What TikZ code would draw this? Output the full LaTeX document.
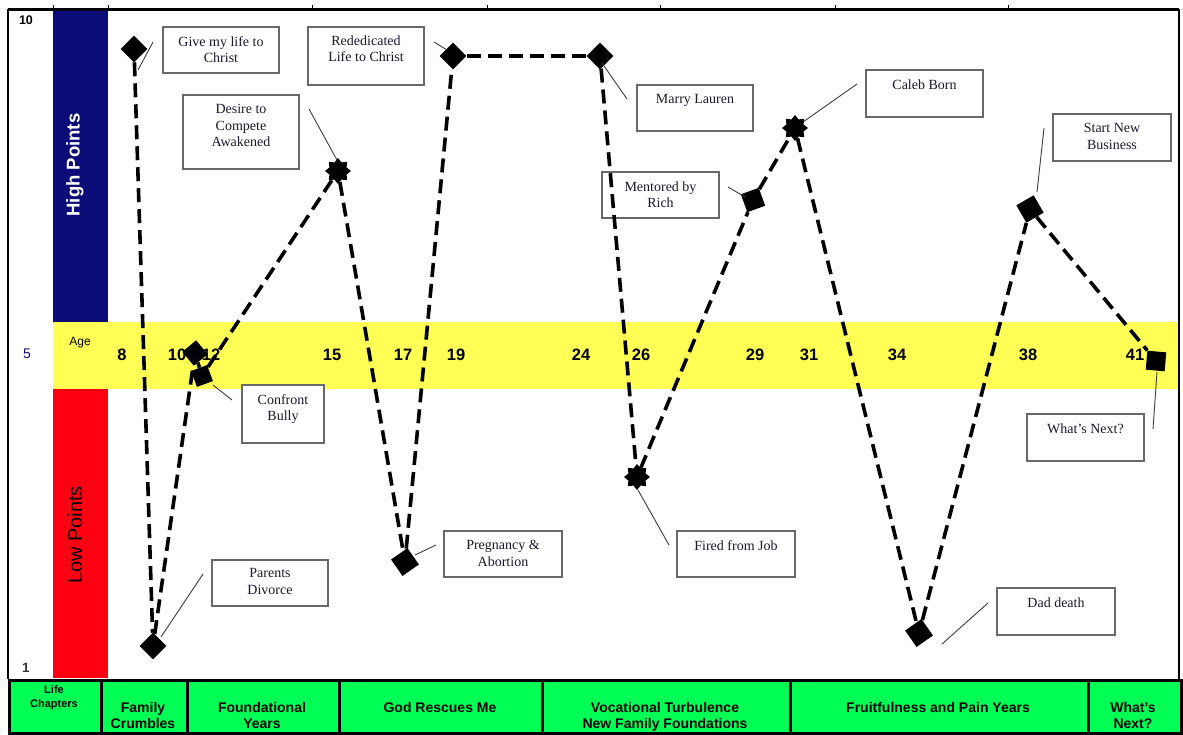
\documentclass[tikz,border=0pt]{standalone}
\usepackage{fontspec}
\setmainfont{Liberation Serif}
\setsansfont{Liberation Sans}
\usetikzlibrary{shapes.geometric}
\definecolor{navybar}{RGB}{12,12,120}
\definecolor{ageband}{RGB}{255,255,85}
\definecolor{lowbar}{RGB}{255,0,18}
\definecolor{chaptergreen}{RGB}{0,255,85}
\definecolor{calloutline}{RGB}{105,105,105}
\definecolor{callouttext}{RGB}{25,25,45}
\definecolor{leadergray}{RGB}{60,60,60}
\begin{document}
\begin{tikzpicture}[x=1pt,y=-1pt,
  evbox/.style={draw=calloutline, line width=1.3pt, fill=white, inner sep=0pt,
                minimum width=116pt, minimum height=46pt},
  evtext/.style={anchor=north, inner sep=0pt, align=center, text=callouttext,
                 font=\fontsize{14}{16.5}\selectfont},
  trend/.style={line width=3.6pt, dash pattern=on 14pt off 7pt},
  topmark/.style={line width=0.8pt},
  leaderline/.style={draw=leadergray, line width=0.9pt},
  dia/.style={diamond, fill=black, inner sep=0pt, minimum width=27pt, minimum height=27pt},
  sq/.style={rectangle, fill=black, inner sep=0pt, minimum size=#1},
  burst/.style={star, star points=8, star point ratio=1.4, fill=black,
                inner sep=0pt, minimum size=26pt},
  agenum/.style={font=\sffamily\bfseries\fontsize{16.5}{18}\selectfont},
  chapcell/.style={draw=black, line width=2.5pt, fill=chaptergreen, inner sep=0pt,
                   minimum height=53pt, anchor=north west},
  celltext/.style={anchor=north, inner sep=0pt, align=center,
                   font=\sffamily\bfseries\fontsize{14}{16}\selectfont},
]
% canvas
\fill[white] (0,0) rectangle (1183,734);

% side bars and the age band
\fill[navybar] (53,9) rectangle (108,322);
\fill[ageband] (53,322) rectangle (1179,389);
\fill[lowbar]  (53,389) rectangle (108,678);

% chart frame
\draw[line width=1.5pt] (8,9) -- (8,679);
\draw[line width=2pt] (1179,9) -- (1179,679);
\draw[line width=3pt] (8,9) -- (1179,9);
\foreach \x in {53,108,312,487,660,835,1008}
  \draw[topmark] (\x,5) -- (\x,8);

% scale labels
\node[font=\sffamily\bfseries\fontsize{12.5}{14}\selectfont] (ten) at (26,20) {10};
\node[font=\sffamily\fontsize{14}{16}\selectfont, text=navybar] (five) at (27,354) {5};
\node[font=\sffamily\bfseries\fontsize{13.5}{15}\selectfont, text=black!80] (one) at (26,668) {1};

\node[rotate=90, text=white, font=\sffamily\bfseries\fontsize{18.5}{20}\selectfont] (high) at (75,165) {High Points};
\node[rotate=90, font=\sffamily\fontsize{20}{22}\selectfont] (low) at (75,535) {Low Points};
\node[font=\sffamily\fontsize{12}{14}\selectfont] (agelbl) at (80,343) {Age};

% ages
\foreach \a/\x in {8/122,10/177,12/211,15/332,17/403,19/456,24/581,26/641,29/755,31/809,34/897,38/1028,41/1135}
  \node[agenum] (age\a) at (\x,355) {\a};

% life chapters
\node[chapcell, minimum width=92pt]  (ch0) at (8,679) {};
\node[chapcell, minimum width=86pt]  (ch1) at (100,679) {};
\node[chapcell, minimum width=152pt] (ch2) at (186,679) {};
\node[chapcell, minimum width=203pt] (ch3) at (338,679) {};
\node[chapcell, minimum width=248pt] (ch4) at (541,679) {};
\node[chapcell, minimum width=298pt] (ch5) at (789,679) {};
\node[chapcell, minimum width=93pt]  (ch6) at (1087,679) {};

\node[celltext, font=\sffamily\bfseries\fontsize{11}{14}\selectfont] (ch0t) at (54,685.5) {Life\\Chapters};
\node[celltext] (ch1t) at (143,702.5) {Family\\Crumbles};
\node[celltext] (ch2t) at (262,702.5) {Foundational\\Years};
\node[celltext] (ch3t) at (440,702.5) {God Rescues Me};
\node[celltext] (ch4t) at (665,702.5) {Vocational Turbulence\\New Family Foundations};
\node[celltext] (ch5t) at (938,702.5) {Fruitfulness and Pain Years};
\node[celltext] (ch6t) at (1133,702.5) {What's\\Next?};

% callouts
\node[evbox] (b1) at (221,50) {};
\node[evtext] (t1) at ([yshift=-10pt]b1.north) {Give my life to\\Christ};
\node[evbox, minimum height=74pt] (b2) at (241,132) {};
\node[evtext] (t2) at ([yshift=-10pt]b2.north) {Desire to\\Compete\\Awakened};
\node[evbox, minimum height=58pt] (b3) at (366,56) {};
\node[evtext] (t3) at ([yshift=-9pt]b3.north) {Rededicated\\Life to Christ};
\node[evbox] (b4) at (695,108) {};
\node[evtext] (t4) at ([yshift=-10pt]b4.north) {Marry Lauren};
\node[evbox, minimum width=117pt] (b5) at (660.5,195) {};
\node[evtext] (t5) at ([yshift=-10pt]b5.north) {Mentored by\\Rich};
\node[evbox, minimum width=117pt, minimum height=47pt] (b6) at (924.5,93.5) {};
\node[evtext] (t6) at ([yshift=-10pt]b6.north) {Caleb Born};
\node[evbox, minimum width=118pt, minimum height=47pt] (b7) at (1112,137.5) {};
\node[evtext] (t7) at ([yshift=-10pt]b7.north) {Start New\\Business};
\node[evbox, minimum width=82pt, minimum height=58pt] (b8) at (283,414) {};
\node[evtext] (t8) at ([yshift=-10pt]b8.north) {Confront\\Bully};
\node[evbox] (b9) at (270,583) {};
\node[evtext] (t9) at ([yshift=-9pt]b9.north) {Parents\\Divorce};
\node[evbox, minimum width=118pt] (b10) at (503,554) {};
\node[evtext] (t10) at ([yshift=-10pt]b10.north) {Pregnancy \&\\Abortion};
\node[evbox, minimum width=118pt] (b11) at (736,554) {};
\node[evtext] (t11) at ([yshift=-10pt]b11.north) {Fired from Job};
\node[evbox, minimum width=118pt, minimum height=47pt] (b12) at (1056,611.5) {};
\node[evtext] (t12) at ([yshift=-10pt]b12.north) {Dad death};
\node[evbox, minimum width=117pt, minimum height=47pt] (b13) at (1085.5,437.5) {};
\node[evtext] (t13) at ([yshift=-10pt]b13.north) {What’s Next?};

% event markers
\node[dia] (m1) at (134,49) {};
\node[dia] (m2) at (153,646) {};
\node[sq=18pt, rotate=40] (m3) at (195,353) {};
\node[sq=17pt, rotate=20] (m4) at (202,376) {};
\node[burst] (m5) at (338,171) {};
\node[sq=20pt, rotate=35] (m6) at (405,562) {};
\node[dia] (m7) at (453,56) {};
\node[dia] (m8) at (600,56) {};
\node[burst] (m9) at (637,477) {};
\node[sq=19pt, rotate=20] (m10) at (753,200) {};
\node[burst] (m11) at (795,128) {};
\node[sq=20pt, rotate=35] (m12) at (919,633) {};
\node[sq=20pt, rotate=30] (m13) at (1030,209) {};
\node[sq=19pt, rotate=-5] (m14) at (1156,361) {};

% life line, drawn over the callouts
\foreach \a/\b in {m1/m2,m2/m3,m3/m4,m4/m5,m5/m6,m6/m7,m7/m8,m8/m9,m9/m10,m10/m11,m11/m12,m12/m13,m13/m14}
  \draw[trend] (\a) -- (\b);

% callout leaders
\coordinate (l1a) at (138,70);   \coordinate (l1b) at (153,42);
\coordinate (l2a) at (337,160);  \coordinate (l2b) at (309,109);
\coordinate (l3a) at (447,50);   \coordinate (l3b) at (434,42);
\coordinate (l4a) at (602,63);   \coordinate (l4b) at (627,99);
\coordinate (l5a) at (745,197);  \coordinate (l5b) at (728,187);
\coordinate (l6a) at (803,122);  \coordinate (l6b) at (857,84);
\coordinate (l7a) at (1037,192); \coordinate (l7b) at (1044,128);
\coordinate (l8a) at (213,385);  \coordinate (l8b) at (232,400);
\coordinate (l9a) at (161,637);  \coordinate (l9b) at (203,574);
\coordinate (l10a) at (415,555); \coordinate (l10b) at (436,545);
\coordinate (l11a) at (638,490); \coordinate (l11b) at (669,545);
\coordinate (l12a) at (942,644); \coordinate (l12b) at (988,603);
\coordinate (l13a) at (1157,372);\coordinate (l13b) at (1153,429);
\foreach \i in {1,...,13}
  \draw[leaderline] (l\i a) -- (l\i b);
\end{tikzpicture}
\end{document}
